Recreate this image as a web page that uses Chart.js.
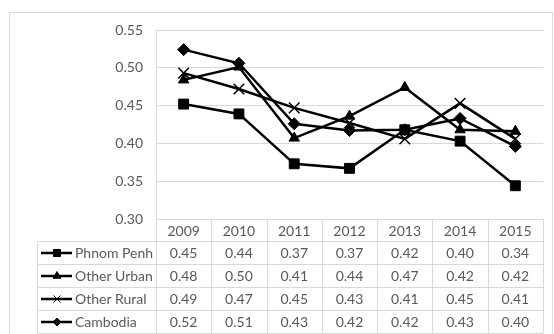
<!DOCTYPE html>
<html>
<head>
<meta charset="utf-8">
<script src="https://cdn.jsdelivr.net/npm/chart.js@4/dist/chart.umd.min.js"></script>
<style>
  html, body { margin: 0; padding: 0; background: #ffffff; }
  #wrap { width: 554px; height: 334px; }
</style>
</head>
<body>
<div id="wrap"><canvas id="c" width="554" height="334"></canvas></div>
<script>
// data (table shows the rounded values)
const years = ['2009', '2010', '2011', '2012', '2013', '2014', '2015'];
const seriesNames = ['Phnom Penh', 'Other Urban', 'Other Rural', 'Cambodia'];
const phnomPenh = [0.452, 0.439, 0.373, 0.367, 0.418, 0.403, 0.344];
const otherUrban = [0.484, 0.501, 0.407, 0.436, 0.474, 0.418, 0.416];
const otherRural = [0.493, 0.472, 0.447, 0.427, 0.406, 0.453, 0.406];
const cambodia = [0.524, 0.506, 0.426, 0.417, 0.418, 0.433, 0.396];
const yTicks = [0.30, 0.35, 0.40, 0.45, 0.50, 0.55];

const TEXT = '#595959';
const GRID = '#d9d9d9';
const FONT = 'Lato, "Liberation Sans", sans-serif';

const markers = [
    { style: 'rect', r: 7, mini: 5 },
    { style: 'triangle', r: 6, mini: 4.5 },
    { style: 'crossRot', r: 7.5, mini: 5 },
    { style: 'rectRot', r: 6, mini: 4 }
];
const allSeries = [phnomPenh, otherUrban, otherRural, cambodia];

// frame around the whole chart
const framePlugin = {
    id: 'frame',
    beforeDraw(chart) {
        const ctx = chart.ctx;
        ctx.save();
        ctx.fillStyle = '#ffffff';
        ctx.fillRect(0, 0, chart.width, chart.height);
        ctx.strokeStyle = GRID;
        ctx.lineWidth = 1;
        ctx.strokeRect(9.5, 12.5, 543, 340);
        ctx.restore();
    }
};

// data table under the plot, columns follow the x scale
const tablePlugin = {
    id: 'dataTable',
    afterDraw(chart) {
        const ctx = chart.ctx;
        const xs = chart.scales.x;
        const area = chart.chartArea;
        const colW = (area.right - area.left) / years.length;
        const headTop = area.bottom;
        const headBot = headTop + 22;
        const rowH = 23;
        const tableLeft = 37;
        const bottom = headBot + rowH * seriesNames.length;

        ctx.save();
        ctx.strokeStyle = GRID;
        ctx.lineWidth = 1;
        ctx.beginPath();
        // vertical lines
        for (let k = 0; k <= years.length; k++) {
            const x = Math.round(area.left + k * colW) + 0.5;
            ctx.moveTo(x, headTop);
            ctx.lineTo(x, bottom);
        }
        ctx.moveTo(tableLeft + 0.5, headBot);
        ctx.lineTo(tableLeft + 0.5, bottom);
        // horizontal lines
        for (let r = 0; r <= seriesNames.length; r++) {
            const y = headBot + r * rowH + 0.5;
            ctx.moveTo(tableLeft, y);
            ctx.lineTo(area.right, y);
        }
        ctx.stroke();

        ctx.fillStyle = TEXT;
        ctx.font = '14px ' + FONT;
        ctx.textAlign = 'center';
        ctx.textBaseline = 'middle';
        years.forEach((yr, i) => {
            ctx.fillText(yr, xs.getPixelForValue(i), (headTop + headBot) / 2 + 1);
        });
        allSeries.forEach((vals, r) => {
            const cy = headBot + r * rowH + rowH / 2 + 1;
            vals.forEach((v, i) => {
                ctx.fillText(v.toFixed(2), xs.getPixelForValue(i), cy);
            });
        });

        // legend keys
        ctx.textAlign = 'left';
        seriesNames.forEach((name, r) => {
            const cy = headBot + r * rowH + rowH / 2 + 0.5;
            ctx.strokeStyle = '#000000';
            ctx.lineWidth = 2.5;
            ctx.beginPath();
            ctx.moveTo(41, cy);
            ctx.lineTo(72, cy);
            ctx.stroke();
            ctx.fillStyle = '#000000';
            ctx.lineWidth = markers[r].style === 'crossRot' ? 1 : 1;
            Chart.helpers.drawPoint(ctx, { pointStyle: markers[r].style, radius: markers[r].mini, borderWidth: 1 }, 57, cy);
            ctx.fillStyle = TEXT;
            ctx.fillText(name, 75, cy + 0.5);
        });
        ctx.restore();
    }
};

const datasets = allSeries.map((vals, i) => ({
    label: seriesNames[i],
    data: vals,
    borderColor: '#000000',
    backgroundColor: '#000000',
    borderWidth: 2.5,
    pointStyle: markers[i].style,
    pointRadius: markers[i].r,
    pointBorderWidth: markers[i].style === 'crossRot' ? 1.5 : 1,
    pointBorderColor: '#000000',
    pointBackgroundColor: '#000000',
    tension: 0
}));

new Chart(document.getElementById('c'), {
    type: 'line',
    data: { labels: years, datasets: datasets },
    options: {
        responsive: false,
        animation: false,
        layout: { padding: { left: 0, top: 30, right: 11, bottom: 115 } },
        plugins: { legend: { display: false }, tooltip: { enabled: false } },
        scales: {
            x: {
                display: false,
                offset: true
            },
            y: {
                min: 0.30,
                max: 0.55,
                afterFit(scale) { scale.width = 156; },
                afterBuildTicks(scale) { scale.ticks = yTicks.map(v => ({ value: v })); },
                border: { display: true, color: GRID, width: 1 },
                grid: { color: GRID, drawTicks: false },
                ticks: {
                    color: TEXT,
                    padding: 13,
                    font: { family: FONT, size: 14 },
                    callback: (v) => Number(v).toFixed(2)
                }
            }
        }
    },
    plugins: [framePlugin, tablePlugin]
});
</script>
</body>
</html>
